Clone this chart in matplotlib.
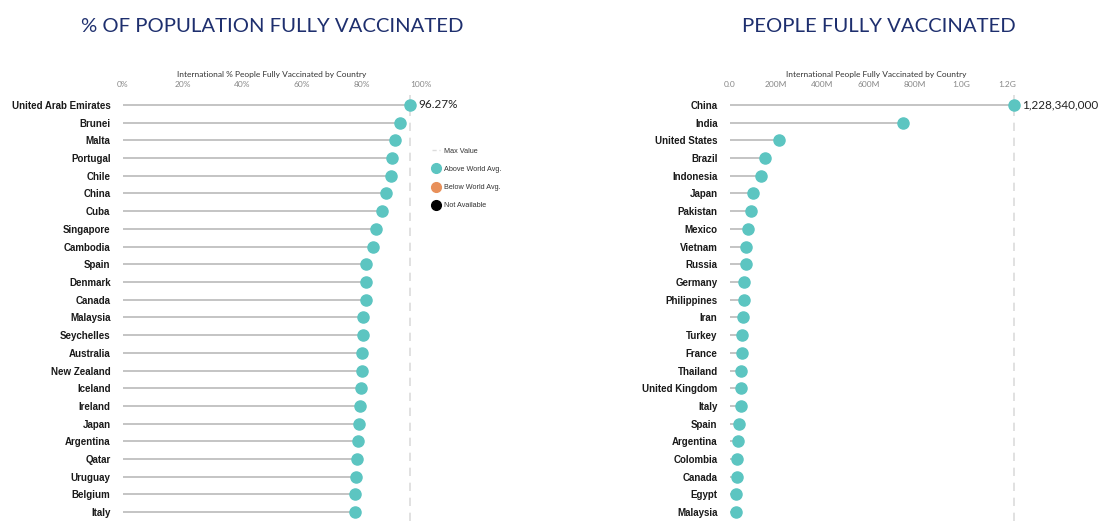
import numpy as np
import matplotlib.pyplot as plt
from matplotlib.lines import Line2D

# data
pct_countries = ['United Arab Emirates', 'Brunei', 'Malta', 'Portugal', 'Chile', 'China',
                 'Cuba', 'Singapore', 'Cambodia', 'Spain', 'Denmark', 'Canada', 'Malaysia',
                 'Seychelles', 'Australia', 'New Zealand', 'Iceland', 'Ireland', 'Japan',
                 'Argentina', 'Qatar', 'Uruguay', 'Belgium', 'Italy']
pct_values = [96.27, 93.0, 91.4, 90.2, 90.0, 88.1, 87.0, 84.8, 83.8, 81.6, 81.5, 81.5, 80.5,
              80.5, 80.3, 80.2, 79.7, 79.4, 79.3, 78.9, 78.4, 78.2, 77.9, 77.8]
pct_ticks = [0, 20, 40, 60, 80, 100]
pct_ticklabels = ['0%', '20%', '40%', '60%', '80%', '100%']

ppl_countries = ['China', 'India', 'United States', 'Brazil', 'Indonesia', 'Japan', 'Pakistan',
                 'Mexico', 'Vietnam', 'Russia', 'Germany', 'Philippines', 'Iran', 'Turkey',
                 'France', 'Thailand', 'United Kingdom', 'Italy', 'Spain', 'Argentina',
                 'Colombia', 'Canada', 'Egypt', 'Malaysia']
ppl_values = [1228340000, 751e6, 214e6, 152e6, 136e6, 100e6, 93e6, 77e6, 71e6, 70e6, 61e6,
              60e6, 55e6, 52e6, 52e6, 49e6, 48e6, 47e6, 39e6, 35e6, 31e6, 29e6, 27e6, 26e6]
ppl_ticks = [0, 200e6, 400e6, 600e6, 800e6, 1.0e9, 1.2e9]
ppl_ticklabels = ['0.0', '200M', '400M', '600M', '800M', '1.0G', '1.2G']

teal = '#5cc5c1'
orange = '#e8905a'
navy = '#1e2f6e'
stem_col = '#c4c4c4'
dash_col = '#dcdcdc'

plt.rcParams['font.family'] = ['Liberation Sans', 'DejaVu Sans']

W, H = 1100, 521
fig = plt.figure(figsize=(W / 100, H / 100), dpi=100)

def lollipop(ax, names, vals, ticks, ticklabels, xmax, axtitle, label):
    y = np.arange(len(names))
    ax.hlines(y, 0, vals, color=stem_col, linewidth=1.4, zorder=1)
    ax.plot(vals, y, 'o', color=teal, markersize=8, zorder=3, clip_on=False)
    vmax = max(vals)
    ax.axvline(vmax, color=dash_col, linestyle=(0, (5, 4)), linewidth=1.2, zorder=0)
    ax.text(vmax + xmax * 0.028, 0, label, fontsize=8.5, color='#222222',
            va='center', ha='left', family='Lato')
    ax.set_xlim(0, xmax)
    ax.set_ylim(23.5, -0.56)
    ax.set_yticks(y)
    ax.set_yticklabels(names, fontsize=7, fontweight='bold', color='#1a1a1a')
    ax.set_xticks(ticks)
    ax.set_xticklabels(ticklabels, fontsize=6, color='#888888', family='Lato')
    ax.xaxis.set_ticks_position('top')
    ax.tick_params(axis='both', length=0)
    ax.tick_params(axis='y', pad=9)
    ax.tick_params(axis='x', pad=5)
    for s in ax.spines.values():
        s.set_visible(False)
    ax.set_title(axtitle, fontsize=6, color='#333333', pad=13, family='Lato')

# left panel: 0% at x=123, 100% at x=421
ax1 = fig.add_axes([123 / W, 0, 298 / W, (H - 95) / H])
lollipop(ax1, pct_countries, pct_values, pct_ticks, pct_ticklabels, 100,
         'International % People Fully Vaccinated by Country', '%.2f%%' % pct_values[0])

# right panel: 0 at x=730
ax2 = fig.add_axes([730 / W, 0, 292 / W, (H - 95) / H])
lollipop(ax2, ppl_countries, ppl_values, ppl_ticks, ppl_ticklabels, 1.265e9,
         'International People Fully Vaccinated by Country', '{:,}'.format(ppl_values[0]))

fig.text(272 / W, 1 - 26 / H, '% OF POPULATION FULLY VACCINATED', fontsize=14.6,
         color=navy, ha='center', va='center', family='Lato')
fig.text(879 / W, 1 - 26 / H, 'PEOPLE FULLY VACCINATED', fontsize=14.6,
         color=navy, ha='center', va='center', family='Lato')

handles = [Line2D([], [], color=dash_col, linestyle=(0, (3, 2)), linewidth=1),
           Line2D([], [], marker='o', color=teal, linestyle='none', markersize=7),
           Line2D([], [], marker='o', color=orange, linestyle='none', markersize=7),
           Line2D([], [], marker='o', color='black', linestyle='none', markersize=7)]
leg = fig.legend(handles, ['Max Value', 'Above World Avg.', 'Below World Avg.', 'Not Available'],
                 loc='upper left', bbox_to_anchor=(425 / W, 1 - 141 / H), frameon=False,
                 fontsize=5.2, handlelength=1.2, handletextpad=0.5, labelspacing=1.55)
for t in leg.get_texts():
    t.set_color('#333333')

fig.savefig('out.png', dpi=100)
